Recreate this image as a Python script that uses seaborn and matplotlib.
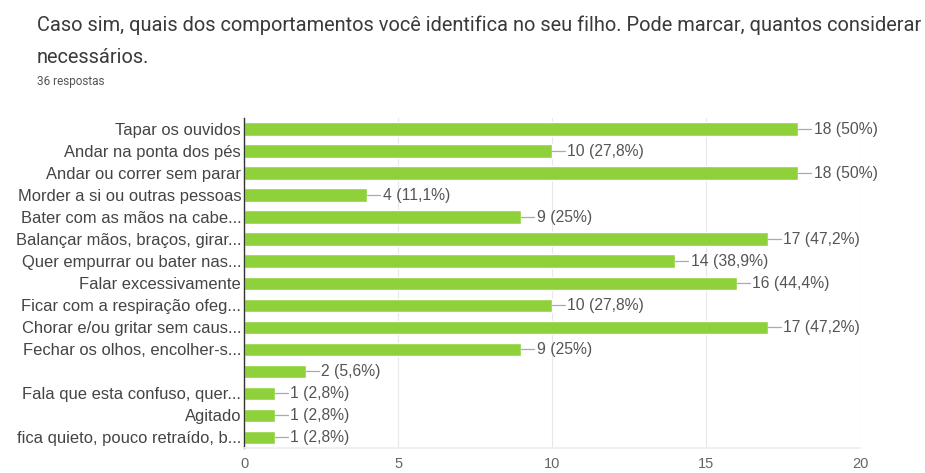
import matplotlib
matplotlib.use("Agg")
import matplotlib.pyplot as plt
import seaborn as sns
import pandas as pd

categories = [
    "Tapar os ouvidos",
    "Andar na ponta dos pés",
    "Andar ou correr sem parar",
    "Morder a si ou outras pessoas",
    "Bater com as mãos na cabe...",
    "Balançar mãos, braços, girar...",
    "Quer empurrar ou bater nas...",
    "Falar excessivamente",
    "Ficar com a respiração ofeg...",
    "Chorar e/ou gritar sem caus...",
    "Fechar os olhos, encolher-s...",
    " ",
    "Fala que esta confuso, quer...",
    "Agitado",
    "fica quieto, pouco retraído, b...",
]
counts = [18, 10, 18, 4, 9, 17, 14, 16, 10, 17, 9, 2, 1, 1, 1]
pct_labels = ["50%", "27,8%", "50%", "11,1%", "25%", "47,2%", "38,9%", "44,4%",
              "27,8%", "47,2%", "25%", "5,6%", "2,8%", "2,8%", "2,8%"]
xticks = [0, 5, 10, 15, 20]

sns.set_theme(style="white")
plt.rcParams['font.family'] = ['Liberation Sans', 'DejaVu Sans']

df = pd.DataFrame({"cat": [f"{i}_{c}" for i, c in enumerate(categories)], "n": counts})

fig = plt.figure(figsize=(9.25, 4.73), dpi=100)
ax = fig.add_axes([0.2638, 0.052, 0.666, 0.698])
sns.barplot(data=df, y="cat", x="n", color="#8fd13a", saturation=1, width=0.62, ax=ax, orient="h")

ax.set_xlim(0, 20)
ax.set_ylim(len(categories) - 0.5, -0.5)
ax.set_xticks(xticks)
ax.set_xticklabels([str(t) for t in xticks], fontsize=10.5, color="#666666")
ax.set_yticks(range(len(categories)))
ax.set_yticklabels(categories, fontsize=11.9, color="#444444")
ax.tick_params(axis="both", length=0)
ax.tick_params(axis="y", pad=2)
ax.tick_params(axis="x", pad=6)
ax.set_xlabel("")
ax.set_ylabel("")
ax.grid(axis="x", color="#e8e8e8", linewidth=0.8)
ax.set_axisbelow(True)
for s in ["top", "right"]:
    ax.spines[s].set_visible(False)
ax.spines["bottom"].set_color("#eeeeee")
ax.spines["left"].set_color("#333333")
ax.spines["left"].set_linewidth(1)

for i, (n, p) in enumerate(zip(counts, pct_labels)):
    ax.plot([n, n + 0.42], [i, i], color="#aaaaaa", linewidth=0.9, clip_on=False)
    ax.text(n + 0.5, i, f"{n} ({p})", va="center", ha="left", fontsize=11.3, color="#555555")

fig.text(0.04, 0.946, "Caso sim, quais dos comportamentos você identifica no seu filho. Pode marcar, quantos considerar",
         fontsize=14.4, color="#3a3a3a", va="center", ha="left", family=["Roboto", "DejaVu Sans"])
fig.text(0.04, 0.878, "necessários.", fontsize=14.4, color="#3a3a3a", va="center", ha="left",
         family=["Roboto", "DejaVu Sans"])
fig.text(0.04, 0.827, "36 respostas", fontsize=8.5, color="#555555", va="center", ha="left",
         family=["Roboto", "DejaVu Sans"])

fig.savefig("out.png", dpi=100, facecolor="white")
